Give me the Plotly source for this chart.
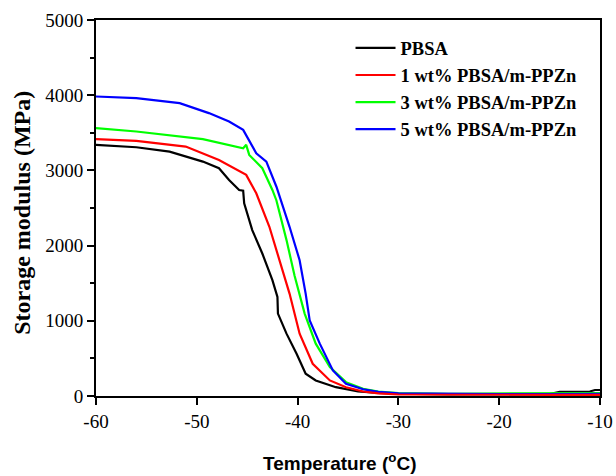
import plotly.graph_objects as go

# ---- data ----
pbsa_T = [-60, -56, -52.7, -49.4, -47.8, -46.8, -45.8, -45.4, -45.3, -44.5, -43.5, -42.5,
          -42.0, -41.95, -41.1, -40.1, -39.2, -38.2, -36.2, -34, -32, -30, -25, -20, -15,
          -14, -11, -10.5, -10]
pbsa_E = [3339, 3308, 3250, 3117, 3028, 2872, 2739, 2730, 2562, 2206, 1895, 1540,
          1317, 1096, 829, 562, 296, 207, 117, 60, 40, 30, 20, 20, 25,
          55, 60, 80, 80]

wt1_T = [-60, -56, -51.1, -47.8, -45.1, -44.1, -42.8, -41.8, -40.8, -39.8, -38.5, -36.8,
         -35.2, -33.5, -32, -30, -25, -20, -15, -10]
wt1_E = [3415, 3393, 3317, 3139, 2940, 2695, 2250, 1806, 1362, 829, 429, 207,
         117, 60, 35, 20, 15, 15, 15, 15]

wt3_T = [-60, -56, -49.4, -45.4, -45.1, -44.8, -43.5, -42.5, -42.1, -41.8, -41.1, -40.3,
         -39.3, -38.2, -36.8, -35.2, -33.5, -32, -30, -25, -20, -15, -10]
wt3_E = [3562, 3517, 3415, 3295, 3340, 3206, 3029, 2740, 2600, 2450, 2073, 1600,
         1096, 696, 384, 184, 95, 60, 40, 30, 30, 35, 40]

wt5_T = [-60, -56, -51.7, -48.8, -46.8, -45.4, -44.1, -43.1, -42.1, -40.8, -39.8, -39.2,
         -38.8, -37.8, -36.5, -35.2, -33.5, -32, -30, -25, -20, -15, -10]
wt5_E = [3983, 3960, 3895, 3762, 3650, 3539, 3228, 3117, 2783, 2250, 1806, 1362,
         1006, 696, 340, 163, 90, 55, 35, 25, 25, 25, 30]

names = ["PBSA", "1 wt% PBSA/m-PPZn", "3 wt% PBSA/m-PPZn", "5 wt% PBSA/m-PPZn"]
colors = ["#000000", "#FF0000", "#00FF00", "#0000FF"]

x_tickvals = [-60, -50, -40, -30, -20, -10]
x_ticktext = ["-60", "-50", "-40", "-30", "-20", "-10"]
y_tickvals = [0, 1000, 2000, 3000, 4000, 5000]

serif = "Liberation Serif, Times New Roman, serif"
sans = "Liberation Sans, Arial, sans-serif"

fig = go.Figure()
series = [(pbsa_T, pbsa_E, 0), (wt3_T, wt3_E, 2), (wt5_T, wt5_E, 3), (wt1_T, wt1_E, 1)]
for T, E, i in series:
    fig.add_trace(go.Scatter(
        x=T, y=E, mode="lines", name="<b>" + names[i] + "</b>",
        line=dict(color=colors[i], width=2.2), legendrank=i + 1,
    ))

fig.update_layout(
    width=616, height=476,
    margin=dict(l=96, r=16, t=20, b=80, autoexpand=False),
    plot_bgcolor="white", paper_bgcolor="white",
    showlegend=True,
    legend=dict(x=0.505, y=0.975, xanchor="left", yanchor="top",
                font=dict(family=serif, size=18.5, color="black"),
                bgcolor="rgba(0,0,0,0)", tracegroupgap=0, itemwidth=40),
    font=dict(family=serif, color="black"),
)
fig.update_xaxes(
    range=[-60, -10], tickvals=x_tickvals, ticktext=x_ticktext, automargin=False,
    showgrid=False, zeroline=False, showline=True, linecolor="black", linewidth=2,
    mirror=True, ticks="outside", ticklen=7, tickwidth=2, tickcolor="black",
    tickfont=dict(family=serif, size=19, color="black"),
)
fig.update_yaxes(
    range=[0, 5000], tickvals=y_tickvals, automargin=False,
    showgrid=False, zeroline=False, showline=True, linecolor="black", linewidth=2,
    mirror=True, ticks="outside", ticklen=7, tickwidth=2, tickcolor="black",
    tickfont=dict(family=serif, size=19, color="black"),
    minor=dict(dtick=500, ticks="outside", ticklen=4, tickwidth=1.5, tickcolor="black"),
)
fig.add_annotation(
    text="<b>Temperature (<sup>o</sup>C)</b>", xref="paper", yref="paper",
    x=0.484, y=-0.212, xanchor="center", yanchor="bottom", showarrow=False,
    font=dict(family=sans, size=19, color="black"),
)
fig.add_annotation(
    text="<b>Storage modulus (MPa)</b>", xref="paper", yref="paper",
    x=-0.147, y=0.487, xanchor="center", yanchor="middle", showarrow=False,
    textangle=-90, font=dict(family=serif, size=24, color="black"),
)

fig.write_html("out.html", config={"displayModeBar": False},
               post_script="document.body.style.margin='0';document.body.style.overflow='hidden';")
